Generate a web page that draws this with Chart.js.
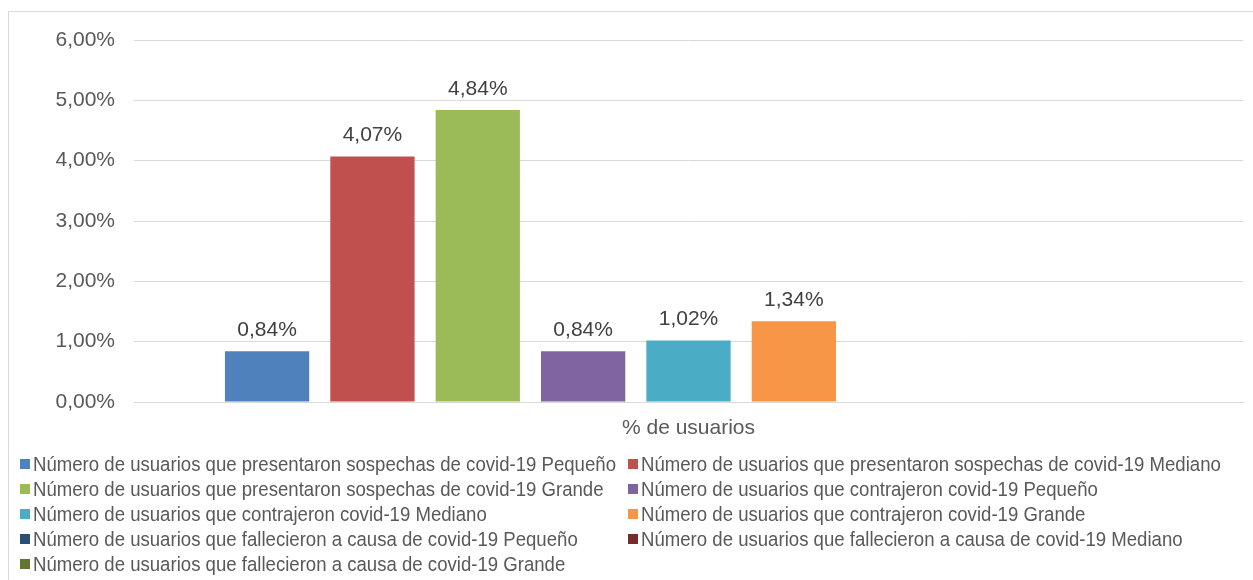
<!DOCTYPE html>
<html>
<head>
<meta charset="utf-8">
<script src="https://cdn.jsdelivr.net/npm/chart.js@4.4.1/dist/chart.umd.min.js"></script>
<style>
  html, body { margin: 0; padding: 0; background: #ffffff; }
  #wrap { position: relative; width: 1253px; height: 580px; }
</style>
</head>
<body>
<div id="wrap"><canvas id="c" width="1253" height="580"></canvas></div>
<script>
// Category and tick labels
const categories = ['% de usuarios'];
const yTicks = [0, 1, 2, 3, 4, 5, 6];

// Series names
const seriesNames = [
  'Número de usuarios que presentaron sospechas de covid-19 Pequeño',
  'Número de usuarios que presentaron sospechas de covid-19 Mediano',
  'Número de usuarios que presentaron sospechas de covid-19 Grande',
  'Número de usuarios que contrajeron covid-19 Pequeño',
  'Número de usuarios que contrajeron covid-19 Mediano',
  'Número de usuarios que contrajeron covid-19 Grande',
  'Número de usuarios que fallecieron a causa de covid-19 Pequeño',
  'Número de usuarios que fallecieron a causa de covid-19 Mediano',
  'Número de usuarios que fallecieron a causa de covid-19 Grande'
];

// Values in percent (empty cells for the fallecieron series)
const sospechasValues = [0.84, 4.07, 4.84];
const contrajeronValues = [0.84, 1.02, 1.34];
const fallecieronValues = [null, null, null];

const seriesColors = [
  '#4F81BD', '#C0504D', '#9BBB59',
  '#8064A2', '#4BACC6', '#F79646',
  '#2C4D75', '#772C2A', '#5F7530'
];

const allValues = sospechasValues.concat(contrajeronValues, fallecieronValues);

const FONT = '"Liberation Sans", Arial, sans-serif';
const fmt = v => v.toFixed(2).replace('.', ',') + '%';

const datasets = seriesNames.map((name, i) => ({
  label: name,
  data: [allValues[i]],
  backgroundColor: seriesColors[i],
  borderWidth: 0,
  barPercentage: 0.8,
  categoryPercentage: 0.855
}));

// Outer chart frame
const framePlugin = {
  id: 'frame',
  beforeDraw(chart) {
    const ctx = chart.ctx;
    ctx.save();
    ctx.fillStyle = '#ffffff';
    ctx.fillRect(0, 0, chart.width, chart.height);
    ctx.strokeStyle = '#D9D9D9';
    ctx.lineWidth = 1;
    ctx.strokeRect(8.5, 11.5, chart.width + 10, chart.height + 10);
    ctx.restore();
  }
};

// Value labels above each bar
const valueLabels = {
  id: 'valueLabels',
  afterDatasetsDraw(chart) {
    const ctx = chart.ctx;
    ctx.save();
    ctx.font = '21px ' + FONT;
    ctx.fillStyle = '#404040';
    ctx.textAlign = 'center';
    ctx.textBaseline = 'alphabetic';
    chart.data.datasets.forEach((ds, i) => {
      const meta = chart.getDatasetMeta(i);
      meta.data.forEach((bar, j) => {
        const v = ds.data[j];
        if (v === null || v === undefined) return;
        ctx.fillText(fmt(v), bar.x, bar.y - 15);
      });
    });
    ctx.restore();
  }
};

// Two-column legend below the plot
const columnLegend = {
  id: 'columnLegend',
  afterDraw(chart) {
    const ctx = chart.ctx;
    const colX = [20, 628];
    const rowY0 = 464, rowStep = 25;
    ctx.save();
    ctx.font = '18.6px ' + FONT;
    ctx.textBaseline = 'middle';
    ctx.textAlign = 'left';
    chart.data.datasets.forEach((ds, i) => {
      const col = i % 2, row = Math.floor(i / 2);
      const x = colX[col], y = rowY0 + row * rowStep;
      ctx.fillStyle = ds.backgroundColor;
      ctx.fillRect(x, y - 5, 10, 10);
      ctx.fillStyle = '#595959';
      ctx.save();
      ctx.translate(x + 13, y + 1);
      ctx.scale(1, 1.1);
      ctx.fillText(ds.label, 0, 0);
      ctx.restore();
    });
    ctx.restore();
  }
};

new Chart(document.getElementById('c'), {
  type: 'bar',
  data: { labels: categories, datasets },
  options: {
    responsive: false,
    animation: false,
    layout: { padding: { left: 8, right: 10, top: 40, bottom: 0 } },
    plugins: {
      legend: { display: false },
      tooltip: { enabled: false }
    },
    scales: {
      x: {
        grid: { display: false, drawTicks: false },
        border: { display: true, color: '#D9D9D9', width: 1 },
        ticks: { color: '#595959', font: { family: FONT, size: 21 }, padding: 14 },
        afterFit(scale) { scale.height = 178; }
      },
      y: {
        min: 0,
        max: 6,
        afterBuildTicks(scale) { scale.ticks = yTicks.map(v => ({ value: v })); },
        grid: { color: '#D9D9D9', lineWidth: 1, drawTicks: false },
        border: { display: false },
        ticks: {
          color: '#595959',
          font: { family: FONT, size: 21 },
          padding: 19,
          callback: v => fmt(v)
        },
        afterFit(scale) { scale.width = 126; }
      }
    }
  },
  plugins: [framePlugin, valueLabels, columnLegend]
});
</script>
</body>
</html>
